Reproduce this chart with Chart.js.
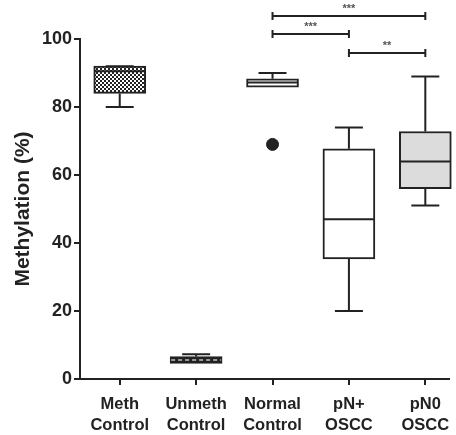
<!DOCTYPE html>
<html>
<head>
<meta charset="utf-8">
<script src="https://cdn.jsdelivr.net/npm/chart.js@4"></script>
<style>
  html, body { margin: 0; padding: 0; background: #fff; overflow: hidden; }
  canvas { display: block; }
</style>
</head>
<body>
<canvas id="myCanvas" width="456" height="435"></canvas>
<script>
// data
const categories = [["Meth", "Control"], ["Unmeth", "Control"], ["Normal", "Control"], ["pN+", "OSCC"], ["pN0", "OSCC"]];
const minVals = [80, 4.6, 85.8, 20, 51];
const q1Vals = [84, 4.6, 85.8, 35.3, 56];
const medianVals = [90.5, 5.6, 87.2, 47, 64];
const q3Vals = [92, 6.6, 88.3, 67.7, 72.8];
const maxVals = [92, 7.3, 90, 74, 89];
const outliers = [{ x: 2, y: 69 }];
const yTicks = [0, 20, 40, 60, 80, 100];
const comparisons = [[2, 4], [2, 3], [3, 4]];
const stars = ["***", "***", "**"];

const ink = "#222";
const fontFamily = "'Liberation Sans', Arial, sans-serif";

// checkered fill for the first box
const pat = document.createElement("canvas");
pat.width = 4; pat.height = 4;
const pctx = pat.getContext("2d");
pctx.fillStyle = "#fff";
pctx.fillRect(0, 0, 4, 4);
pctx.fillStyle = "#222";
pctx.fillRect(0, 0, 2, 2);
pctx.fillRect(2, 2, 2, 2);
const checker = pctx.createPattern(pat, "repeat");

const boxFills = [checker, ink, "#fff", "#fff", "#dcdcdc"];

const whiskerPlugin = {
  id: "whiskers",
  afterDatasetsDraw(chart) {
    const { ctx, scales: { x, y } } = chart;
    ctx.save();
    ctx.strokeStyle = ink;
    ctx.lineWidth = 2;
    categories.forEach((c, i) => {
      const cx = x.getPixelForValue(i);
      const cap = 14;
      ctx.beginPath();
      ctx.moveTo(cx, y.getPixelForValue(q3Vals[i]));
      ctx.lineTo(cx, y.getPixelForValue(maxVals[i]));
      ctx.moveTo(cx - cap, y.getPixelForValue(maxVals[i]));
      ctx.lineTo(cx + cap, y.getPixelForValue(maxVals[i]));
      if (minVals[i] < q1Vals[i]) {
        ctx.moveTo(cx, y.getPixelForValue(q1Vals[i]));
        ctx.lineTo(cx, y.getPixelForValue(minVals[i]));
        ctx.moveTo(cx - cap, y.getPixelForValue(minVals[i]));
        ctx.lineTo(cx + cap, y.getPixelForValue(minVals[i]));
      }
      ctx.stroke();
      // median
      const my = y.getPixelForValue(medianVals[i]);
      ctx.beginPath();
      if (i === 1) {
        ctx.strokeStyle = "#999";
        ctx.setLineDash([4, 3]);
      }
      ctx.moveTo(cx - 25, my);
      ctx.lineTo(cx + 25, my);
      ctx.stroke();
      ctx.setLineDash([]);
      ctx.strokeStyle = ink;
    });

    // significance bars above the plot
    const levels = [106.8, 101.5, 95.9];
    ctx.fillStyle = "#555";
    ctx.font = "bold 11px " + fontFamily;
    ctx.textAlign = "center";
    ctx.textBaseline = "bottom";
    comparisons.forEach(([a, b], k) => {
      const x1 = x.getPixelForValue(a);
      const x2 = x.getPixelForValue(b);
      const yy = y.getPixelForValue(levels[k]);
      ctx.beginPath();
      ctx.moveTo(x1, yy); ctx.lineTo(x2, yy);
      ctx.moveTo(x1, yy - 4); ctx.lineTo(x1, yy + 4);
      ctx.moveTo(x2, yy - 4); ctx.lineTo(x2, yy + 4);
      ctx.stroke();
      ctx.fillText(stars[k], (x1 + x2) / 2, yy - 1);
    });
    ctx.restore();
  }
};

const canvas = document.getElementById("myCanvas");
const context = canvas.getContext("2d");
new Chart(context, {
  type: "bar",
  data: {
    datasets: [
      {
        type: "scatter",
        data: outliers,
        pointRadius: 6,
        pointHoverRadius: 6,
        backgroundColor: ink,
        borderColor: ink,
        clip: false,
      },
      {
        data: categories.map((c, i) => ({ x: i, y: [q1Vals[i], q3Vals[i]] })),
        backgroundColor: boxFills,
        borderColor: ink,
        borderWidth: 2,
        borderSkipped: false,
        barThickness: 52,
        clip: false,
      },
    ],
  },
  options: {
    responsive: false,
    animation: false,
    layout: { padding: { top: 39, right: 0, left: 0, bottom: 0 } },
    plugins: { legend: { display: false }, tooltip: { enabled: false } },
    scales: {
      x: {
        type: "linear",
        offset: false,
        bounds: "data",
        min: -0.52,
        max: 4.31,
        afterDataLimits: (s) => { s.min = -0.52; s.max = 4.31; },
        afterBuildTicks: (s) => { s.ticks = categories.map((c, i) => ({ value: i })); },
        afterFit: (s) => { s.height = 56; s.paddingLeft = 0; s.paddingRight = 0; },
        grid: { offset: false, drawOnChartArea: false, drawTicks: true, tickLength: 6, lineWidth: 2, color: ink },
        border: { color: ink, width: 2 },
        ticks: {
          callback: (v) => categories[v],
          color: ink,
          padding: 9,
          maxRotation: 0,
          autoSkip: false,
          font: { family: fontFamily, size: 16.5, weight: "bold", lineHeight: 1.28 },
        },
      },
      y: {
        min: 0,
        max: 100,
        afterBuildTicks: (s) => { s.ticks = yTicks.map((v) => ({ value: v })); },
        afterFit: (s) => { s.width = 80; },
        grid: { drawOnChartArea: false, drawTicks: true, tickLength: 6, lineWidth: 2, color: ink },
        border: { color: ink, width: 2 },
        ticks: {
          color: ink,
          padding: 2,
          font: { family: fontFamily, size: 18, weight: "bold" },
        },
        title: {
          display: true,
          text: "Methylation (%)",
          color: ink,
          padding: { top: 11, bottom: 0 },
          font: { family: fontFamily, size: 21, weight: "bold" },
        },
      },
    },
  },
  plugins: [whiskerPlugin],
});
</script>
</body>
</html>
